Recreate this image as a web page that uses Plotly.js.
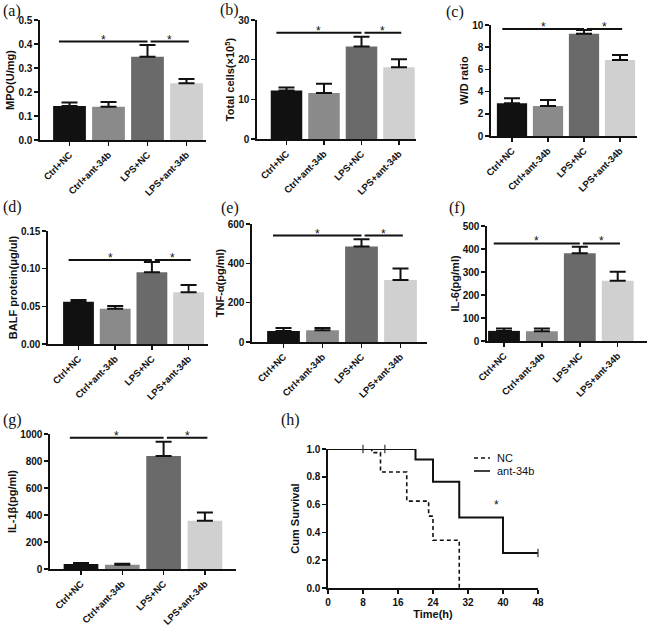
<!DOCTYPE html>
<html>
<head>
<meta charset="utf-8">
<script src="https://cdn.plot.ly/plotly-3.0.1.min.js"></script>
<style>html,body{margin:0;padding:0;background:#fff;}#chart{width:650px;height:627px;}</style>
</head>
<body>
<div id="chart"></div>
<script>
// ---------- DATA ----------
const categories = ['Ctrl+NC', 'Ctrl+ant-34b', 'LPS+NC', 'LPS+ant-34b'];

const mpoMean = [0.142, 0.139, 0.347, 0.236];
const mpoErr  = [0.014, 0.019, 0.049, 0.018];

const cellsMean = [12.2, 11.6, 23.3, 18.1];
const cellsErr  = [0.8, 2.3, 2.5, 2.0];

const wdMean = [2.94, 2.70, 9.22, 6.85];
const wdErr  = [0.45, 0.54, 0.33, 0.45];

const balfMean = [0.0562, 0.0469, 0.0951, 0.0686];
const balfErr  = [0.0022, 0.0035, 0.0137, 0.0097];

const tnfMean = [56, 60, 485, 315];
const tnfErr  = [15, 11, 37, 59];

const il6Mean = [44, 42, 381, 262];
const il6Err  = [10, 12, 29, 39];

const il1bMean = [37, 32, 837, 357];
const il1bErr  = [7, 7, 106, 62];

// significance bar heights (data units)
const sigLevels = [0.41, 26.8, 9.64, 0.1115, 541, 424, 973];

// survival (h)
const ncTime = [0, 10, 12, 18, 23, 24, 30];
const ncSurv = [1.0, 0.974, 0.834, 0.625, 0.517, 0.344, 0.0];
const antTime = [0, 20, 24, 30, 40, 48];
const antSurv = [1.0, 0.925, 0.764, 0.507, 0.252, 0.252];
const ncCensorTime = [8, 13];
const ncCensorSurv = [1.0, 1.0];
const antCensorTime = [48];
const antCensorSurv = [0.252];

// ---------- LAYOUT HELPERS ----------
const W = 650, H = 627;
const fx = p => p / W;
const fy = p => 1 - p / H;
const barColors = ['#111111', '#8a8a8a', '#6a6a6a', '#d0d0d0'];
const FONT = 'Liberation Sans, Arial, sans-serif';
const SERIF = 'Liberation Serif, Times New Roman, serif';
const tickFont = {family: FONT, size: 10, color: '#111', weight: 'bold'};
const xTickFont = {family: FONT, size: 9.5, color: '#111', weight: 'bold'};
const titleFont = {family: FONT, size: 11, color: '#111', weight: 'bold'};

const panels = [
  {label: '(a)', lab: [1, 0],   mean: mpoMean,   err: mpoErr,   title: 'MPO(U/mg)',            px: [40, 206],  py: [20, 140],  c0: 69.5,  s: 39,   yr: [0, 0.5],  dtick: 0.1,  fmt: '.1f'},
  {label: '(b)', lab: [218, -1], mean: cellsMean, err: cellsErr, title: 'Total cells(×10<sup>5</sup>)', px: [257, 416], py: [20, 139], c0: 286.5, s: 37.5, yr: [0, 30],   dtick: 10,   fmt: 'd'},
  {label: '(c)', lab: [444, 1], mean: wdMean,    err: wdErr,    title: 'W/D ratio',            px: [491, 637], py: [25, 136],  c0: 512,   s: 36,   yr: [0, 10],   dtick: 2,    fmt: 'd'},
  {label: '(d)', lab: [1, 196], mean: balfMean,  err: balfErr,  title: 'BALF protein(μg/ul)',  px: [48, 208],  py: [231, 344], c0: 78.5,  s: 36.7, yr: [0, 0.15], dtick: 0.05, fmt: '.2f'},
  {label: '(e)', lab: [219, 197], mean: tnfMean, err: tnfErr,   title: 'TNF-α(pg/ml)',         px: [252, 427], py: [224, 342], c0: 283.5, s: 39,   yr: [0, 600],  dtick: 200,  fmt: 'd'},
  {label: '(f)', lab: [447, 197], mean: il6Mean, err: il6Err,   title: 'IL-6(pg/ml)',          px: [487, 647], py: [226, 341], c0: 504,   s: 37.9, yr: [0, 500],  dtick: 100,  fmt: 'd'},
  {label: '(g)', lab: [1, 409], mean: il1bMean,  err: il1bErr,  title: 'IL-1β(pg/ml)',         px: [50, 236],  py: [434, 569], c0: 81,    s: 41.3, yr: [0, 1000], dtick: 200,  fmt: 'd'}
];

const data = [];
const layout = {
  width: W, height: H,
  margin: {l: 0, r: 0, t: 0, b: 0},
  paper_bgcolor: '#fff', plot_bgcolor: 'rgba(0,0,0,0)',
  showlegend: false,
  shapes: [], annotations: [],
  font: {family: FONT, color: '#111'}
};

panels.forEach((p, i) => {
  const n = i + 1;
  const xs = n === 1 ? '' : String(n);
  const xa = 'x' + xs, ya = 'y' + xs;
  data.push({
    type: 'bar', x: categories, y: p.mean, xaxis: xa, yaxis: ya,
    width: 0.84,
    marker: {color: barColors, line: {width: 0}},
    error_y: {type: 'data', symmetric: false, array: p.err, arrayminus: p.err.map(() => 0),
              color: '#111', thickness: 2, width: 8},
    hoverinfo: 'skip'
  });
  layout['xaxis' + xs] = {
    domain: [fx(p.px[0]), fx(p.px[1])], anchor: ya, type: 'category',
    categoryorder: 'array', categoryarray: categories,
    range: [(p.px[0] - p.c0) / p.s, (p.px[1] - p.c0) / p.s],
    showline: true, linewidth: 1.6, linecolor: '#111', ticks: 'outside', ticklen: 4,
    tickwidth: 1.5, tickcolor: '#111', tickangle: -45, tickfont: xTickFont,
    showgrid: false, zeroline: false, fixedrange: true
  };
  layout['yaxis' + xs] = {
    domain: [fy(p.py[1]), fy(p.py[0])], anchor: xa, range: p.yr,
    showline: true, linewidth: 1.6, linecolor: '#111', ticks: 'outside', ticklen: 4,
    tickwidth: 1.5, tickcolor: '#111', dtick: p.dtick, tick0: 0, tickformat: p.fmt,
    tickfont: tickFont, showgrid: false, zeroline: false, fixedrange: true,
    title: {text: p.title, font: titleFont, standoff: 1}
  };
  const lvl = sigLevels[i];
  const segs = [[-0.27, 2.0], [2.08, 3.06]];
  segs.forEach(sg => {
    layout.shapes.push({type: 'line', xref: xa, yref: ya, x0: sg[0], x1: sg[1], y0: lvl, y1: lvl,
                        line: {color: '#111', width: 2}});
    layout.annotations.push({xref: xa, yref: ya, x: (sg[0] + sg[1]) / 2, y: lvl, text: '*',
                             showarrow: false, yanchor: 'middle', yshift: 2,
                             font: {family: FONT, size: 12, color: '#111'}});
  });
  layout.annotations.push({xref: 'paper', yref: 'paper', x: fx(p.lab[0]), y: fy(p.lab[1]),
                           xanchor: 'left', yanchor: 'top', text: p.label, showarrow: false,
                           font: {family: SERIF, size: 16, color: '#111'}});
});

// ---------- (h) survival ----------
data.push({type: 'scatter', mode: 'lines', x: ncTime, y: ncSurv, xaxis: 'x8', yaxis: 'y8',
           line: {shape: 'hv', color: '#111', width: 1.6, dash: '4px,3px'}, name: 'NC', hoverinfo: 'skip'});
data.push({type: 'scatter', mode: 'lines', x: antTime, y: antSurv, xaxis: 'x8', yaxis: 'y8',
           line: {shape: 'hv', color: '#111', width: 2}, name: 'ant-34b', hoverinfo: 'skip'});
data.push({type: 'scatter', mode: 'markers', x: ncCensorTime, y: ncCensorSurv, xaxis: 'x8', yaxis: 'y8',
           marker: {symbol: 'line-ns-open', size: 6, color: '#333', line: {color: '#333', width: 1.2}},
           hoverinfo: 'skip', cliponaxis: false});
data.push({type: 'scatter', mode: 'markers', x: antCensorTime, y: antCensorSurv, xaxis: 'x8', yaxis: 'y8',
           marker: {symbol: 'line-ns-open', size: 6, color: '#333', line: {color: '#333', width: 1.2}},
           hoverinfo: 'skip', cliponaxis: false});

layout.xaxis8 = {
  domain: [fx(328), fx(538)], anchor: 'y8', range: [0, 48], dtick: 8, tick0: 0,
  showline: true, linewidth: 1.6, linecolor: '#111', ticks: 'outside', ticklen: 4, tickwidth: 1.5,
  tickcolor: '#111', tickfont: tickFont, showgrid: false, zeroline: false, fixedrange: true,
  title: {text: 'Time(h)', font: titleFont, standoff: 3}
};
layout.yaxis8 = {
  domain: [fy(588), fy(449)], anchor: 'x8', range: [0, 1], dtick: 0.2, tick0: 0, tickformat: '.1f',
  showline: true, linewidth: 1.6, linecolor: '#111', ticks: 'outside', ticklen: 4, tickwidth: 1.5,
  tickcolor: '#111', tickfont: tickFont, showgrid: false, zeroline: false, fixedrange: true,
  title: {text: 'Cum Survival', font: titleFont, standoff: 4}
};
layout.annotations.push({xref: 'x8', yref: 'y8', x: 38.5, y: 0.53, text: '*', showarrow: false,
                         yanchor: 'bottom', font: {family: FONT, size: 12, color: '#111'}});
layout.annotations.push({xref: 'paper', yref: 'paper', x: fx(279), y: fy(409), xanchor: 'left', yanchor: 'top',
                         text: '(h)', showarrow: false,
                         font: {family: SERIF, size: 16, color: '#111'}});
// manual legend
const legendItems = [{name: 'NC', dash: '4px,3px', y: 458}, {name: 'ant-34b', dash: 'solid', y: 471}];
legendItems.forEach(it => {
  layout.shapes.push({type: 'line', xref: 'paper', yref: 'paper', x0: fx(474), x1: fx(490), y0: fy(it.y), y1: fy(it.y),
                      line: {color: '#111', width: 1.6, dash: it.dash}});
  layout.annotations.push({xref: 'paper', yref: 'paper', x: fx(495), y: fy(it.y), xanchor: 'left', yanchor: 'middle',
                           text: it.name, showarrow: false, font: {family: FONT, size: 11, color: '#111'}});
});

Plotly.newPlot('chart', data, layout, {displayModeBar: false, staticPlot: true});
</script>
</body>
</html>
